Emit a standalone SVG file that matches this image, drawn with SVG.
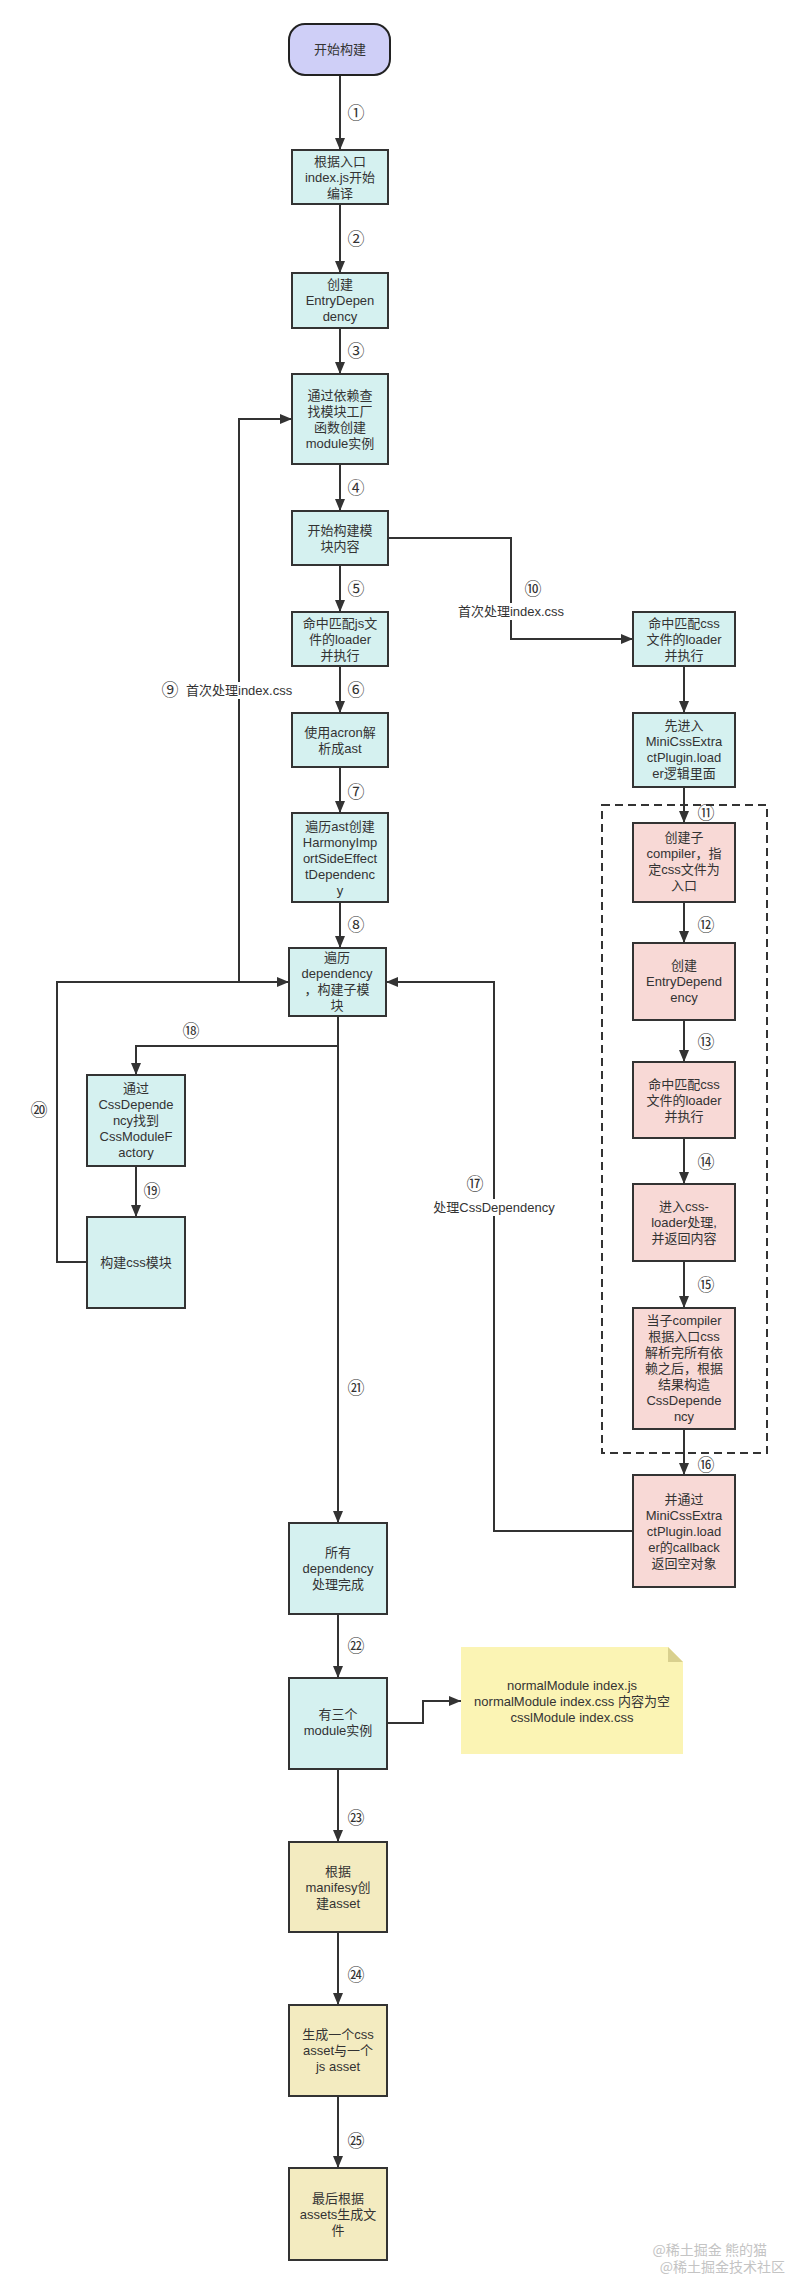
<svg xmlns="http://www.w3.org/2000/svg" width="792" height="2284" viewBox="0 0 792 2284">
<style>
.t{font-family:"Liberation Sans","Noto Sans CJK SC",sans-serif;font-size:13px;fill:#333;text-anchor:middle}
.n{font-family:"Noto Sans CJK SC","DejaVu Sans",sans-serif;font-size:17px;fill:#333;text-anchor:middle}
.l{font-family:"Liberation Sans","Noto Sans CJK SC",sans-serif;font-size:13px;fill:#333}
.c{fill:#d5f1f0;stroke:#333;stroke-width:2}
.p{fill:#f8d9d6;stroke:#333;stroke-width:2}
.y{fill:#f3ebc0;stroke:#333;stroke-width:2}
.e{fill:none;stroke:#333;stroke-width:2}
.bg{fill:#fff}
.w{font-family:"Noto Sans CJK SC",sans-serif;font-size:14px;fill:#c4c4c4;text-anchor:end}
</style>
<defs>
<marker id="a" viewBox="0 0 12 10" refX="12" refY="5" markerWidth="12" markerHeight="10" markerUnits="userSpaceOnUse" orient="auto"><path d="M0,0 L12,5 L0,10 z" fill="#333"/></marker>
</defs>
<rect width="792" height="2284" fill="#fff"/>

<g id="connectors">
<path class="e" d="M340,75 V150" marker-end="url(#a)"/>
<path class="e" d="M340,204 V273" marker-end="url(#a)"/>
<path class="e" d="M340,328 V374" marker-end="url(#a)"/>
<path class="e" d="M340,464 V511" marker-end="url(#a)"/>
<path class="e" d="M340,565 V612" marker-end="url(#a)"/>
<path class="e" d="M340,666 V713" marker-end="url(#a)"/>
<path class="e" d="M340,767 V813" marker-end="url(#a)"/>
<path class="e" d="M340,902 V948" marker-end="url(#a)"/>
<path class="e" d="M289,982 H239 V419 H292" marker-end="url(#a)"/>
<path class="e" d="M388,538 H511 V639 H633" marker-end="url(#a)"/>
<path class="e" d="M684,666 V713" marker-end="url(#a)"/>
<path class="e" d="M684,787 V823" marker-end="url(#a)"/>
<path class="e" d="M684,902 V943" marker-end="url(#a)"/>
<path class="e" d="M684,1020 V1062" marker-end="url(#a)"/>
<path class="e" d="M684,1138 V1184" marker-end="url(#a)"/>
<path class="e" d="M684,1261 V1308" marker-end="url(#a)"/>
<path class="e" d="M684,1429 V1475" marker-end="url(#a)"/>
<path class="e" d="M633,1531 H494 V982 H386" marker-end="url(#a)"/>
<path class="e" d="M338,1016 V1046 H136 V1075" marker-end="url(#a)"/>
<path class="e" d="M136,1166 V1217" marker-end="url(#a)"/>
<path class="e" d="M87,1262 H57 V982 H289" marker-end="url(#a)"/>
<path class="e" d="M338,1046 V1523" marker-end="url(#a)"/>
<path class="e" d="M338,1614 V1678" marker-end="url(#a)"/>
<path class="e" d="M387,1723 H423 V1701 H461" marker-end="url(#a)"/>
<path class="e" d="M338,1769 V1842" marker-end="url(#a)"/>
<path class="e" d="M338,1932 V2005" marker-end="url(#a)"/>
<path class="e" d="M338,2096 V2168" marker-end="url(#a)"/>
</g>

<g id="edge-labels">
<text class="n" x="356" y="119">①</text>
<text class="n" x="356" y="245">②</text>
<text class="n" x="356" y="357">③</text>
<text class="n" x="356" y="494">④</text>
<text class="n" x="356" y="595">⑤</text>
<text class="n" x="356" y="696">⑥</text>
<text class="n" x="356" y="798">⑦</text>
<text class="n" x="356" y="931">⑧</text>
<text class="n" x="170" y="696">⑨</text>
<rect class="bg" x="184" y="682" width="111" height="17"/>
<text class="l" x="186" y="695">首次处理index.css</text>
<text class="n" x="533" y="595">⑩</text>
<rect class="bg" x="456" y="603" width="110" height="17"/>
<text class="t" x="511" y="616">首次处理index.css</text>
<text class="n" x="706" y="819">⑪</text>
<text class="n" x="706" y="931">⑫</text>
<text class="n" x="706" y="1048">⑬</text>
<text class="n" x="706" y="1168">⑭</text>
<text class="n" x="706" y="1291">⑮</text>
<text class="n" x="706" y="1471">⑯</text>
<text class="n" x="475" y="1190">⑰</text>
<rect class="bg" x="429" y="1199" width="130" height="17"/>
<text class="t" x="494" y="1212">处理CssDependency</text>
<text class="n" x="191" y="1037">⑱</text>
<text class="n" x="152" y="1197">⑲</text>
<text class="n" x="39" y="1116">⑳</text>
<text class="n" x="356" y="1394">㉑</text>
<text class="n" x="356" y="1652">㉒</text>
<text class="n" x="356" y="1824">㉓</text>
<text class="n" x="356" y="1981">㉔</text>
<text class="n" x="356" y="2147">㉕</text>
</g>

<rect id="child-compiler" x="602" y="805" width="165" height="648" fill="none" stroke="#333" stroke-width="2" stroke-dasharray="8,5"/>

<g id="start"><rect x="289" y="24" width="101" height="51" rx="16" fill="#cfcff7" stroke="#222" stroke-width="2"/><text class="t" x="340" y="54">开始构建</text></g>
<g id="entry"><rect class="c" x="292" y="150" width="96" height="54"/><text class="t" x="340" y="166">根据入口</text><text class="t" x="340" y="182">index.js开始</text><text class="t" x="340" y="198">编译</text></g>
<g id="entrydep"><rect class="c" x="292" y="273" width="96" height="55"/><text class="t" x="340" y="289">创建</text><text class="t" x="340" y="305">EntryDepen</text><text class="t" x="340" y="321">dency</text></g>
<g id="factory"><rect class="c" x="292" y="374" width="96" height="90"/><text class="t" x="340" y="400">通过依赖查</text><text class="t" x="340" y="416">找模块工厂</text><text class="t" x="340" y="432">函数创建</text><text class="t" x="340" y="448">module实例</text></g>
<g id="build"><rect class="c" x="292" y="511" width="96" height="54"/><text class="t" x="340" y="535">开始构建模</text><text class="t" x="340" y="551">块内容</text></g>
<g id="jsloader"><rect class="c" x="292" y="612" width="96" height="54"/><text class="t" x="340" y="628">命中匹配js文</text><text class="t" x="340" y="644">件的loader</text><text class="t" x="340" y="660">并执行</text></g>
<g id="acron"><rect class="c" x="292" y="713" width="96" height="54"/><text class="t" x="340" y="737">使用acron解</text><text class="t" x="340" y="753">析成ast</text></g>
<g id="harmony"><rect class="c" x="292" y="813" width="96" height="89"/><text class="t" x="340" y="831">遍历ast创建</text><text class="t" x="340" y="847">HarmonyImp</text><text class="t" x="340" y="863">ortSideEffect</text><text class="t" x="340" y="879">tDependenc</text><text class="t" x="340" y="895">y</text></g>
<g id="traverse"><rect class="c" x="289" y="948" width="97" height="68"/><text class="t" x="337" y="962">遍历</text><text class="t" x="337" y="978">dependency</text><text class="t" x="337" y="994">，构建子模</text><text class="t" x="337" y="1010">块</text></g>
<g id="cssfactory"><rect class="c" x="87" y="1075" width="98" height="91"/><text class="t" x="136" y="1093">通过</text><text class="t" x="136" y="1109">CssDepende</text><text class="t" x="136" y="1125">ncy找到</text><text class="t" x="136" y="1141">CssModuleF</text><text class="t" x="136" y="1157">actory</text></g>
<g id="cssmodule"><rect class="c" x="87" y="1217" width="98" height="91"/><text class="t" x="136" y="1267">构建css模块</text></g>
<g id="done"><rect class="c" x="289" y="1523" width="98" height="91"/><text class="t" x="338" y="1557">所有</text><text class="t" x="338" y="1573">dependency</text><text class="t" x="338" y="1589">处理完成</text></g>
<g id="modules"><rect class="c" x="289" y="1678" width="98" height="91"/><text class="t" x="338" y="1719">有三个</text><text class="t" x="338" y="1735">module实例</text></g>
<g id="asset"><rect class="y" x="289" y="1842" width="98" height="90"/><text class="t" x="338" y="1876">根据</text><text class="t" x="338" y="1892">manifesy创</text><text class="t" x="338" y="1908">建asset</text></g>
<g id="assets2"><rect class="y" x="289" y="2005" width="98" height="91"/><text class="t" x="338" y="2039">生成一个css</text><text class="t" x="338" y="2055">asset与一个</text><text class="t" x="338" y="2071">js asset</text></g>
<g id="emit"><rect class="y" x="289" y="2168" width="98" height="92"/><text class="t" x="338" y="2203">最后根据</text><text class="t" x="338" y="2219">assets生成文</text><text class="t" x="338" y="2235">件</text></g>
<g id="cssloader"><rect class="c" x="633" y="612" width="102" height="54"/><text class="t" x="684" y="628">命中匹配css</text><text class="t" x="684" y="644">文件的loader</text><text class="t" x="684" y="660">并执行</text></g>
<g id="miniloader"><rect class="c" x="633" y="713" width="102" height="74"/><text class="t" x="684" y="730">先进入</text><text class="t" x="684" y="746">MiniCssExtra</text><text class="t" x="684" y="762">ctPlugin.load</text><text class="t" x="684" y="778">er逻辑里面</text></g>
<g id="childcompiler"><rect class="p" x="633" y="823" width="102" height="79"/><text class="t" x="684" y="842">创建子</text><text class="t" x="684" y="858">compiler，指</text><text class="t" x="684" y="874">定css文件为</text><text class="t" x="684" y="890">入口</text></g>
<g id="childentry"><rect class="p" x="633" y="943" width="102" height="77"/><text class="t" x="684" y="970">创建</text><text class="t" x="684" y="986">EntryDepend</text><text class="t" x="684" y="1002">ency</text></g>
<g id="childloader"><rect class="p" x="633" y="1062" width="102" height="76"/><text class="t" x="684" y="1089">命中匹配css</text><text class="t" x="684" y="1105">文件的loader</text><text class="t" x="684" y="1121">并执行</text></g>
<g id="cssloaderproc"><rect class="p" x="633" y="1184" width="102" height="77"/><text class="t" x="684" y="1211">进入css-</text><text class="t" x="684" y="1227">loader处理,</text><text class="t" x="684" y="1243">并返回内容</text></g>
<g id="cssdep"><rect class="p" x="633" y="1308" width="102" height="121"/><text class="t" x="684" y="1325">当子compiler</text><text class="t" x="684" y="1341">根据入口css</text><text class="t" x="684" y="1357">解析完所有依</text><text class="t" x="684" y="1373">赖之后，根据</text><text class="t" x="684" y="1389">结果构造</text><text class="t" x="684" y="1405">CssDepende</text><text class="t" x="684" y="1421">ncy</text></g>
<g id="callback"><rect class="p" x="633" y="1475" width="102" height="112"/><text class="t" x="684" y="1504">并通过</text><text class="t" x="684" y="1520">MiniCssExtra</text><text class="t" x="684" y="1536">ctPlugin.load</text><text class="t" x="684" y="1552">er的callback</text><text class="t" x="684" y="1568">返回空对象</text></g>
<g id="note"><path d="M461,1647 H668 L683,1662 V1754 H461 z" fill="#fbf4b4"/><path d="M668,1647 L683,1662 H668 z" fill="#d9d08e"/><text class="t" x="572" y="1690">normalModule index.js</text><text class="t" x="572" y="1706">normalModule index.css 内容为空</text><text class="t" x="572" y="1722">csslModule index.css</text></g>
<g id="watermark"><text class="w" x="767" y="2255">@稀土掘金 熊的猫</text><text class="w" x="785" y="2272">@稀土掘金技术社区</text></g>
</svg>
